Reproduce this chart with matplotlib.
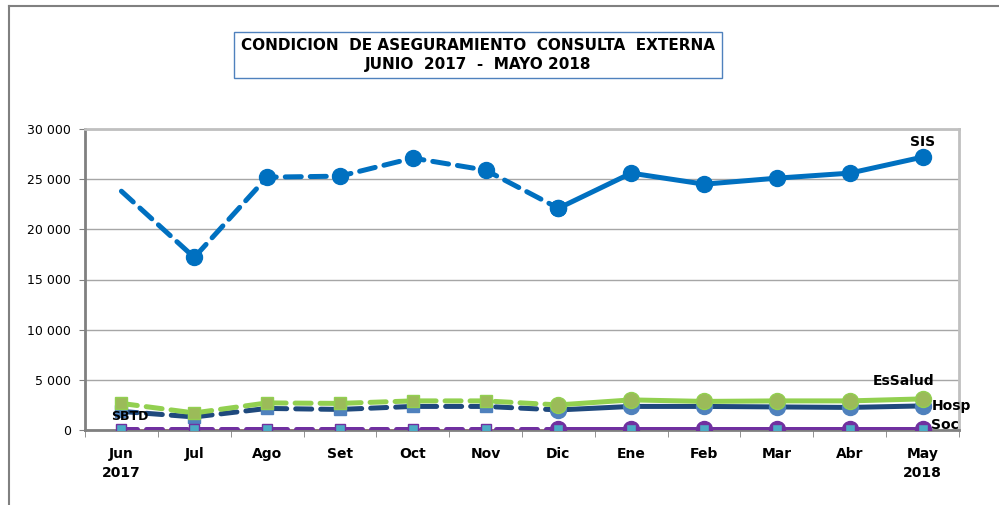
import matplotlib
matplotlib.use('Agg')
import matplotlib.pyplot as plt
import numpy as np

#--data
months = ['Jun\n2017','Jul','Ago','Set','Oct','Nov','Dic','Ene','Feb','Mar','Abr','May\n2018']
sis     = [23800,17200,25200,25300,27100,25900,22100,25600,24500,25100,25600,27200]
essalud = [2650,1700,2700,2650,2900,2900,2500,3000,2850,2900,2900,3100]
hosp    = [1850,1300,2150,2050,2350,2350,2000,2350,2350,2300,2250,2400]
soc     = [100,100,100,100,100,100,100,100,100,100,100,100]
sbtd    = [0,0,0,0,0,0,0,0,0,0,0,0]
split = 6   # dashed up to Dic, solid after

fig = plt.figure(figsize=(9.99,5.05),dpi=100)
W,H = 999.,505.
ax = fig.add_axes([85/W, 1-430/H, (959-85)/W, (430-129)/H])

x = np.arange(len(months))
LW = 3.6
dash = dict(linestyle=(0,(3.2,1.8)),dash_capstyle='round')

def draw(vals,color,mk_d,mk_s,mfc_d,mfc_s,ms_d,ms_s,mec_d,mec_s,skip_first=False,z=3):
    xd, yd = x[:split+1], vals[:split+1]
    ax.plot(xd,yd,color=color,lw=LW,zorder=z,**dash)
    xs_ = xd[1:] if skip_first else xd[:-1]
    ys_ = yd[1:] if skip_first else yd[:-1]
    ax.plot(xs_,ys_,ls='none',marker=mk_d,ms=ms_d,mfc=mfc_d,mec=mec_d,mew=1,zorder=z+0.1)
    ax.plot(x[split:],vals[split:],color=color,lw=LW,zorder=z,solid_capstyle='round')
    ax.plot(x[split:],vals[split:],ls='none',marker=mk_s,ms=ms_s,mfc=mfc_s,mec=mec_s,mew=1,zorder=z+0.1)

ax.plot(x,sbtd,color='#FF0000',lw=2,zorder=2)
draw(hosp,'#1F497D','s','o','#4F81BD','#4F81BD',8,11.5,'#4F81BD','#4F81BD',z=3)
draw(essalud,'#92D050','s','o','#9BBB59','#9BBB59',8,11.5,'#92D050','#92D050',z=4)
#--Soc: purple line, cyan squares, purple circles on solid part
ax.plot(x[:split+1],soc[:split+1],color='#7030A0',lw=LW,zorder=5,**dash)
ax.plot(x[split:],soc[split:],color='#7030A0',lw=LW,zorder=5,solid_capstyle='round')
ax.plot(x[split:],soc[split:],ls='none',marker='o',ms=11.5,mfc='#7030A0',mec='#7030A0',zorder=5.1)
ax.plot(x,soc,ls='none',marker='s',ms=7.5,mfc='#4BACC6',mec='#7030A0',mew=1,zorder=5.2)
draw(sis,'#0070C0','o','o','#0070C0','#0070C0',11.5,11.5,'#0070C0','#0070C0',skip_first=True,z=6)

ax.set_xlim(-0.5,len(months)-0.5)
ax.set_ylim(0,30000)
ax.set_yticks(np.arange(0,30001,5000))
ax.set_yticklabels(['0','5 000','10 000','15 000','20 000','25 000','30 000'],fontsize=9)
ax.set_xticks(x)
ax.set_xticklabels(months,fontsize=10,fontweight='bold',linespacing=1.5)
ax.set_xticks(np.arange(-0.5,len(months)),minor=True)
ax.tick_params(axis='x',which='major',length=0,pad=12)
ax.tick_params(axis='x',which='minor',length=5,color='#808080',direction='out')
ax.tick_params(axis='y',length=4,color='#808080',pad=6)
ax.grid(axis='y',color='#A6A6A6',lw=1,zorder=0)
ax.set_axisbelow(True)
for s in ['top','right']:
    ax.spines[s].set_color('#C0C0C0'); ax.spines[s].set_linewidth(2)
for s in ['left','bottom']:
    ax.spines[s].set_color('#808080'); ax.spines[s].set_linewidth(2)

#--series labels
tk = dict(fontsize=10,fontweight='bold',color='black',zorder=10)
ax.text(11,28700,'SIS',ha='center',va='center',**tk)
ax.text(10.74,4900,'EsSalud',ha='center',va='center',**tk)
ax.text(11.13,2400,'Hosp',ha='left',va='center',**tk)
ax.text(11.11,450,'Soc',ha='left',va='center',**tk)
ax.text(0.12,1300,'SBTD',ha='center',va='center',fontsize=9,fontweight='bold',zorder=10)

#--title box
fig.text(478/W,1-55/H,'CONDICION  DE ASEGURAMIENTO  CONSULTA  EXTERNA\nJUNIO  2017  -  MAYO 2018',
         ha='center',va='center',fontsize=11,fontweight='bold',linespacing=1.25,
         bbox=dict(boxstyle='square,pad=0.45',fc='white',ec='#4F81BD',lw=1))

#--outer chart border
fig.add_artist(plt.Line2D([9/W,9/W],[0,1-6/H],color='#808080',lw=1.5))
fig.add_artist(plt.Line2D([9/W,1],[1-6/H,1-6/H],color='#808080',lw=1.5))

fig.savefig('out.png',dpi=100)
